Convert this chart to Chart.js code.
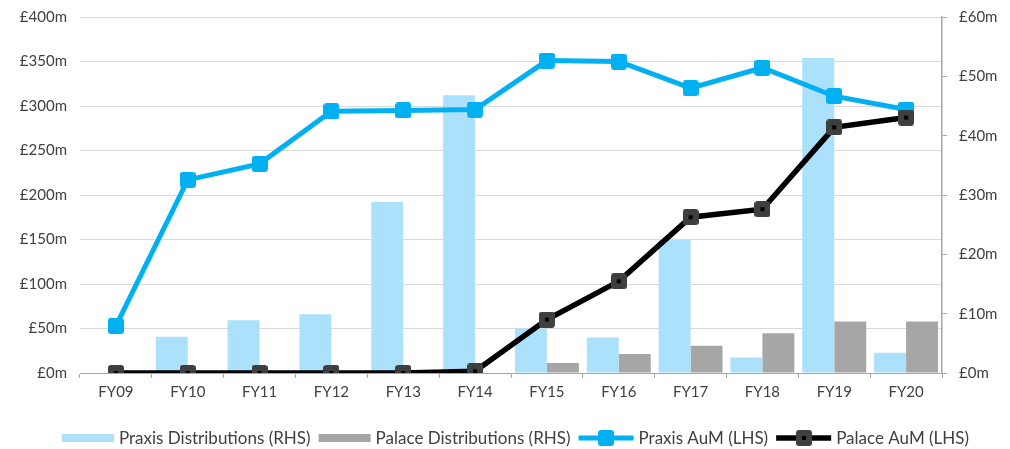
<!DOCTYPE html>
<html>
<head>
<meta charset="utf-8">
<script src="https://cdn.jsdelivr.net/npm/chart.js@4.4.1/dist/chart.umd.min.js"></script>
<style>
  html, body { margin: 0; padding: 0; background: #fff; }
  #wrap { width: 1010px; height: 449px; position: relative; }
</style>
</head>
<body>
<div id="wrap"><canvas id="chart"></canvas></div>
<script>
// values (£m)
const categories = ['FY09', 'FY10', 'FY11', 'FY12', 'FY13', 'FY14', 'FY15', 'FY16', 'FY17', 'FY18', 'FY19', 'FY20'];
const praxisDist = [0, 6.1, 8.9, 9.9, 28.8, 46.8, 7.5, 6.0, 22.4, 2.6, 53.1, 3.4];
const palaceDist = [0, 0, 0, 0, 0, 0, 1.7, 3.2, 4.6, 6.7, 8.7, 8.7];
const praxisAum = [53, 217, 235, 294, 295, 296, 351, 350, 320, 343, 311, 296];
const palaceAum = [0, 0, 0, 0, 0, 2, 60, 103, 175, 184, 276, 287];

const FONT = 'Lato';
const TEXT = '#404040';
const AXIS = '#A6A6A6';

const money = v => '£' + v + 'm';

// small rounded-square marker images, Excel style
function makeMarker(size, fill, inner) {
    const c = document.createElement('canvas');
    c.width = size;
    c.height = size;
    const g = c.getContext('2d');
    g.fillStyle = fill;
    g.beginPath();
    g.roundRect(0, 0, size, size, 3);
    g.fill();
    if (inner) {
        const s = 4;
        g.fillStyle = inner;
        g.fillRect((size - s) / 2, (size - s) / 2, s, s);
    }
    return c;
}
const praxisMarker = makeMarker(16, '#00B0F0');
const palaceMarker = makeMarker(16, '#3F3F3F', '#000000');

// legend drawn by hand so the line entries can show line + marker
const legendPlugin = {
    id: 'customLegend',
    afterDraw(chart) {
        const ctx = chart.ctx;
        const y = 438;
        ctx.save();
        ctx.font = '17px ' + FONT;
        ctx.textBaseline = 'middle';
        let x = 62;
        chart.data.datasets.forEach(ds => {
            let symW;
            if (ds.type === 'bar') {
                symW = 52;
                ctx.fillStyle = ds.backgroundColor;
                ctx.fillRect(x, y - 4, symW, 8);
            } else {
                symW = 55;
                ctx.strokeStyle = ds.borderColor;
                ctx.lineWidth = ds.borderWidth;
                ctx.beginPath();
                ctx.moveTo(x, y);
                ctx.lineTo(x + symW, y);
                ctx.stroke();
                const m = ds.pointStyle;
                ctx.drawImage(m, Math.round(x + symW / 2 - m.width / 2), Math.round(y - m.height / 2));
            }
            ctx.fillStyle = TEXT;
            ctx.fillText(ds.label, x + symW + 5, y + 1);
            x += symW + 5 + ctx.measureText(ds.label).width + 8;
        });
        ctx.restore();
    }
};

// keep tick padding from pushing the plot area down
const noAxisPad = scale => { scale.paddingTop = 0; scale.paddingBottom = 0; };

new Chart(document.getElementById('chart'), {
    data: {
        labels: categories,
        datasets: [
            {
                type: 'bar',
                label: 'Praxis Distributions (RHS)',
                data: praxisDist,
                yAxisID: 'y1',
                backgroundColor: '#ABE1FA',
                categoryPercentage: 0.89,
                barPercentage: 1.0,
                order: 3
            },
            {
                type: 'bar',
                label: 'Palace Distributions (RHS)',
                data: palaceDist,
                yAxisID: 'y1',
                backgroundColor: '#A6A6A6',
                categoryPercentage: 0.89,
                barPercentage: 1.0,
                order: 3
            },
            {
                type: 'line',
                label: 'Praxis AuM (LHS)',
                data: praxisAum,
                yAxisID: 'y',
                borderColor: '#00B0F0',
                borderWidth: 5,
                pointStyle: praxisMarker,
                pointRadius: 8,
                tension: 0,
                order: 1
            },
            {
                type: 'line',
                label: 'Palace AuM (LHS)',
                data: palaceAum,
                yAxisID: 'y',
                borderColor: '#000000',
                borderWidth: 5.5,
                pointStyle: palaceMarker,
                pointRadius: 8,
                tension: 0,
                order: 0
            }
        ]
    },
    options: {
        responsive: true,
        maintainAspectRatio: false,
        animation: false,
        layout: { padding: { left: 0, right: 0, top: 17, bottom: 0 } },
        plugins: {
            legend: { display: false },
            tooltip: { enabled: false }
        },
        scales: {
            x: {
                offset: true,
                grid: { offset: true, drawOnChartArea: false, drawTicks: true, tickLength: 5, color: AXIS },
                border: { display: true, color: AXIS, width: 1 },
                ticks: { color: TEXT, font: { family: FONT, size: 15 }, padding: 5 },
                afterFit(scale) { scale.height = 76; }
            },
            y: {
                position: 'left',
                min: 0,
                max: 400,
                ticks: { stepSize: 50, color: TEXT, font: { family: FONT, size: 15 }, padding: 13, callback: money },
                grid: { color: '#D9D9D9', lineWidth: 1, drawTicks: false },
                border: { display: false },
                afterFit(scale) { scale.width = 80; noAxisPad(scale); }
            },
            y1: {
                position: 'right',
                min: 0,
                max: 60,
                ticks: { stepSize: 10, color: TEXT, font: { family: FONT, size: 15 }, padding: 12, callback: money },
                grid: { drawOnChartArea: false, drawTicks: true, tickLength: 5, color: AXIS },
                border: { display: true, color: AXIS, width: 1.5 },
                afterFit(scale) { scale.width = 68; noAxisPad(scale); }
            }
        }
    },
    plugins: [legendPlugin]
});
</script>
</body>
</html>
